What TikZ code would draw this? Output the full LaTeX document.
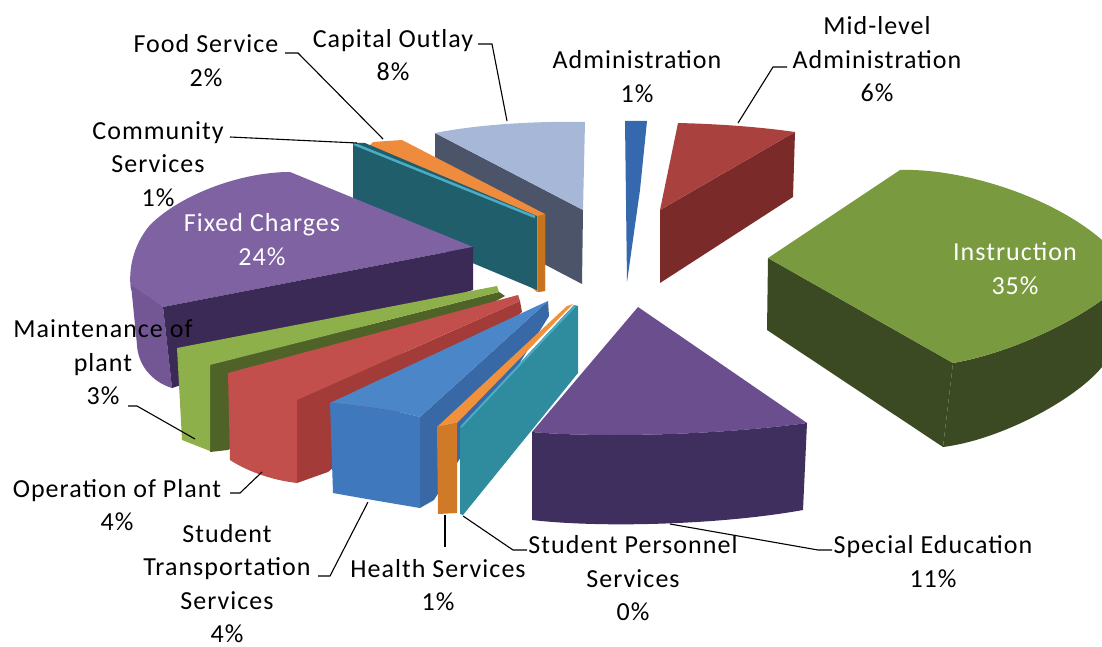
\documentclass[tikz,border=0pt]{standalone}
\usepackage{fontspec}
\setmainfont{Carlito}[LetterSpace=4]
\definecolor{capTop}{HTML}{A6B7D7}
\definecolor{capSide}{HTML}{4B5468}
\definecolor{foodTop}{HTML}{EE8B3C}
\definecolor{foodSide}{HTML}{C8741F}
\definecolor{commTop}{HTML}{4BACC6}
\definecolor{commSide}{HTML}{205E6C}
\definecolor{fixTop}{HTML}{7F62A1}
\definecolor{fixWall}{HTML}{735795}
\definecolor{fixSide}{HTML}{3B2A56}
\definecolor{mntTop}{HTML}{8DB04A}
\definecolor{mntSide}{HTML}{4F6228}
\definecolor{opTop}{HTML}{C24F4B}
\definecolor{opSide}{HTML}{A33B39}
\definecolor{trTop}{HTML}{4A86C8}
\definecolor{trWall}{HTML}{3F78BC}
\definecolor{trSide}{HTML}{3868A6}
\definecolor{hlTop}{HTML}{F0913E}
\definecolor{hlWall}{HTML}{D07A28}
\definecolor{psSide}{HTML}{2E8C9E}
\definecolor{seTop}{HTML}{6B4E8E}
\definecolor{seWall}{HTML}{3F2F5E}
\definecolor{adBlue}{HTML}{3568AC}
\definecolor{midTop}{HTML}{A9423E}
\definecolor{midSide}{HTML}{7A2B29}
\definecolor{inTop}{HTML}{7A9A3F}
\definecolor{inSide}{HTML}{3B4A22}
\begin{document}
\begin{tikzpicture}[x=1pt,y=-1pt,
  lbl/.style={font=\fontsize{26}{33.5}\selectfont, align=center, inner sep=0pt, text=black},
  wlbl/.style={lbl, text=white},
  conn/.style={draw=black, line width=1.1pt}]
\useasboundingbox (0,0) rectangle (1102,647);
\clip (0,0) rectangle (1102,647);

% Capital Outlay
\fill[capSide] (435,133) -- (583,210) -- (582,284) -- (435,207) -- cycle;
\fill[capTop] (435,133) .. controls (480,124) and (540,121) .. (585,122) -- (583,210) -- cycle;
% Food Service
\fill[foodTop] (373,142) -- (402,140) -- (545,214) -- (545,291) -- (537,292) -- (365,150) -- cycle;
\fill[foodSide] (538,216) -- (545,214) -- (545,291) -- (538,292) -- cycle;
% Community Services
\fill[commSide] (353,143) -- (365,143) -- (537,216) -- (537,290) -- (353,213) -- cycle;
\draw[commTop, line width=2.5pt] (354,144) -- (535,217);
% Administration
\fill[adBlue] (625,121) -- (647,121) -- (640,190) -- (627,282) -- cycle;
% Mid-level Administration
\fill[midSide] (660,210) -- (795,132) -- (793,197) -- (660,283) -- cycle;
\fill[midTop] (678,123) .. controls (720,124) and (760,127) .. (795,132) -- (660,210) -- cycle;
% Fixed Charges
\fill[fixTop] (473,247) -- (290,172) .. controls (240,172) and (180,195) .. (150,225)
  .. controls (133,245) and (128,270) .. (131,290) -- (163,307) -- cycle;
\fill[fixWall] (131,285) -- (163,307) -- (172,388) .. controls (152,382) and (138,365) .. (137,345) -- cycle;
\fill[fixSide] (163,307) -- (473,247) -- (473,290) -- (172,388) -- cycle;
% Maintenance of plant
\fill[mntSide] (210,365) -- (499,292) -- (505,296) -- (228,450) -- (210,452) -- cycle;
\fill[mntTop] (177,348) -- (497,286) -- (499,292) -- (210,365) -- (210,451) -- (182,440) -- cycle;
% Operation of Plant
\fill[opSide] (297,400) -- (520,301) -- (522,312) -- (328,472) -- (297,483) -- cycle;
\fill[opTop] (228,373) -- (518,295) -- (520,301) -- (297,400) -- (297,483)
  .. controls (270,480) and (245,470) .. (230,460) -- cycle;
% Instruction
\fill[inSide] (768,258) -- (953,363) -- (943,447) -- (767,330) -- cycle;
\fill[inSide] (953,363) .. controls (1000,355) and (1060,330) .. (1102,300) -- (1120,290) -- (1120,360)
  -- (1102,367) .. controls (1075,400) and (1000,440) .. (943,447) -- cycle;
\fill[inTop] (768,258) -- (900,170) .. controls (960,168) and (1050,195) .. (1102,240) -- (1120,260) -- (1120,290)
  -- (1102,300) .. controls (1060,330) and (1000,355) .. (953,363) -- cycle;
% Student Transportation Services
\fill[trSide] (420,417) -- (548,301) -- (549,316) -- (434,500) -- (420,508) -- cycle;
\fill[trTop] (330,403) -- (537,306) -- (548,301) -- (420,417) .. controls (395,410) and (355,405) .. (330,403) -- cycle;
\fill[trWall] (330,403) .. controls (355,405) and (395,410) .. (420,417) -- (420,508)
  .. controls (390,503) and (355,497) .. (333,493) -- cycle;
% Health Services
\fill[hlTop] (437,427) -- (567,306) -- (573,304) -- (457,423) -- cycle;
\fill[hlWall] (437,427) -- (457,423) -- (457,513) -- (438,514) -- cycle;
% Student Personnel Services
\fill[psSide] (460,427) -- (574,305) -- (578,306) -- (578,373) -- (463,515) -- (460,514) -- cycle;
\draw[commTop, line width=2pt] (461,427) -- (575,306);
% Special Education
\fill[seTop] (638,307) -- (532,432) .. controls (600,438) and (720,435) .. (807,423) -- cycle;
\fill[seWall] (532,432) .. controls (600,438) and (720,435) .. (807,423) -- (803,510)
  .. controls (720,525) and (600,528) .. (532,520) -- cycle;

% Labels
\node[lbl] (lfood) at (206,60.5) {Food Service\\2\%};
\node[lbl] (lcap) at (393,55) {Capital Outlay\\8\%};
\node[lbl] (lcomm) at (158,164) {Community\\Services\\1\%};
\node[lbl] (ladm) at (637,76.5) {Administration\\1\%};
\node[lbl] (lmid) at (877,59.5) {Mid-level\\Administration\\6\%};
\node[wlbl] (linst) at (1015,268.5) {Instruction\\35\%};
\node[wlbl] (lfix) at (262,239.5) {Fixed Charges\\24\%};
\node[lbl] (lmnt) at (103,362.5) {Maintenance of\\plant\\3\%};
\node[lbl] (lop) at (117,505) {Operation of Plant\\4\%};
\node[lbl] (ltr) at (227,583.5) {Student\\Transportation\\Services\\4\%};
\node[lbl] (lhl) at (438,585) {Health Services\\1\%};
\node[lbl] (lps) at (633,578.5) {Student Personnel\\Services\\0\%};
\node[lbl] (lse) at (933,561.5) {Special Education\\11\%};

% Connector points
\coordinate (capA) at (478,44); \coordinate (capB) at (492,44); \coordinate (capC) at (507,121);
\coordinate (foodA) at (285,53); \coordinate (foodB) at (298,53); \coordinate (foodC) at (383,139);
\coordinate (commA) at (230,137); \coordinate (commB) at (357,143);
\coordinate (midA) at (738,123); \coordinate (midB) at (773,67); \coordinate (midC) at (787,67);
\coordinate (mntA) at (128,406); \coordinate (mntB) at (137,406); \coordinate (mntC) at (195,439);
\coordinate (opA) at (230,493); \coordinate (opB) at (240,493); \coordinate (opC) at (262,472);
\coordinate (trA) at (318,576); \coordinate (trB) at (330,576); \coordinate (trC) at (368,502);
\coordinate (hlA) at (445,515); \coordinate (hlB) at (445,547);
\coordinate (psA) at (463,516); \coordinate (psB) at (513,550); \coordinate (psC) at (527,550);
\coordinate (seA) at (670,524); \coordinate (seB) at (818,550); \coordinate (seC) at (832,550);

\draw[conn] (capA) -- (capB) -- (capC);
\draw[conn] (foodA) -- (foodB) -- (foodC);
\draw[conn] (commA) -- (commB);
\draw[conn] (midA) -- (midB) -- (midC);
\draw[conn] (mntA) -- (mntB) -- (mntC);
\draw[conn] (opA) -- (opB) -- (opC);
\draw[conn] (trA) -- (trB) -- (trC);
\draw[conn] (hlA) -- (hlB);
\draw[conn] (psA) -- (psB) -- (psC);
\draw[conn] (seA) -- (seB) -- (seC);
\end{tikzpicture}
\end{document}
